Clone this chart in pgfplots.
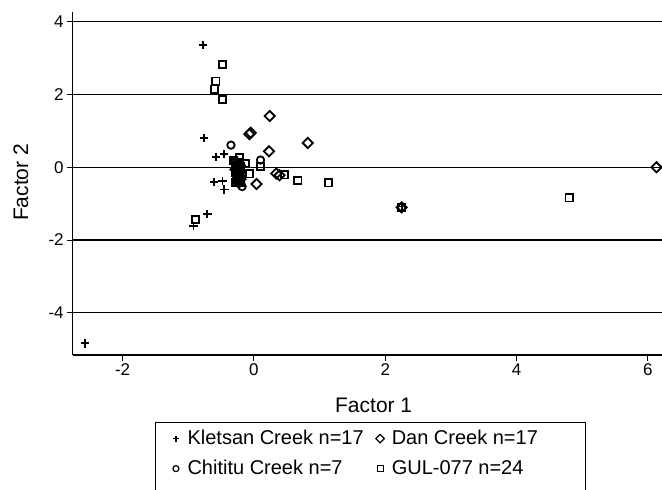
\documentclass[border=0pt]{standalone}
\usepackage{fontspec}
\setmainfont{Liberation Sans}
\usepackage{pgfplots}
\pgfplotsset{compat=1.18}

% factor scores, one table per source
\pgfplotstableread{
x y
-0.78 3.37
-0.76 0.81
-0.58 0.29
-0.46 0.36
-0.61 -0.40
-0.48 -0.38
-0.45 -0.61
-0.71 -1.28
-0.92 -1.61
-2.57 -4.84
2.25 -1.08
-0.205 0.12
-0.28 0.03
-0.255 -0.06
-0.205 -0.15
-0.28 -0.24
-0.28 -0.33
}\kletsan

\pgfplotstableread{
x y
0.24 1.41
-0.05 0.95
-0.07 0.91
0.82 0.67
0.23 0.44
0.34 -0.17
0.39 -0.22
0.04 -0.46
6.13 0.00
2.25 -1.10
-0.255 0.12
-0.205 0.03
-0.28 -0.06
-0.23 -0.15
-0.255 -0.24
-0.205 -0.33
-0.23 -0.42
}\dan

\pgfplotstableread{
x y
-0.35 0.61
0.10 0.20
-0.18 -0.53
2.25 -1.10
-0.23 0.03
-0.205 -0.24
-0.255 -0.42
}\chititu

\pgfplotstableread{
x y
-0.48 2.83
-0.58 2.37
-0.60 2.15
-0.48 1.87
-0.89 -1.43
0.67 -0.36
1.14 -0.43
0.47 -0.21
0.10 0.02
-0.07 -0.18
-0.22 0.26
-0.31 0.18
-0.13 0.11
4.80 -0.84
2.25 -1.10
-0.28 0.12
-0.23 0.12
-0.255 0.03
-0.205 -0.06
-0.28 -0.15
-0.23 -0.24
-0.255 -0.33
-0.205 -0.42
-0.28 -0.42
}\gul

\begin{document}
\begin{tikzpicture}
\begin{axis}[
    at={(0pt,0pt)}, anchor=south west,
    scale only axis,
    width=589pt, height=343pt,
    xmin=-2.76, xmax=6.21,
    ymin=-5.16, ymax=4.27,
    clip=false,
    axis x line*=bottom, axis y line*=left,
    axis line style={line width=1.3pt, -},
    xtick={-2,0,2,4,6},
    ytick={-4,-2,0,2,4},
    tick align=outside,
    major tick length=5.5pt,
    tick style={line width=1.1pt, black},
    ymajorgrids,
    major grid style={black, line width=1.3pt},
    /pgf/number format/assume math mode=true,
    ticklabel style={font=\fontsize{17}{20}\selectfont},
    xlabel={Factor 1}, ylabel={Factor 2},
    label style={font=\fontsize{21}{25}\selectfont},
    xlabel style={at={(axis description cs:0.511,-0.146)}, anchor=center},
    ylabel style={at={(axis description cs:-0.088,0.503)}, anchor=center},
    legend columns=2,
    legend cell align=left,
    legend image code/.code={%
        \draw[#1] plot coordinates {(10pt,0pt)};
        \path (0pt,0pt) (18pt,0pt);},
    legend style={
        name=leg,
        at={(axis description cs:0.14,-0.198)}, anchor=north west,
        draw=none,
        inner xsep=10pt, inner ysep=6pt,
        font=\fontsize{20}{24}\selectfont,
        row sep=11pt,
        nodes={inner sep=0pt, text height=15pt, text depth=4pt},
        /tikz/every odd column/.append style={column sep=3pt},
    },
    legend image post style={mark size=3pt, line width=1.2pt},
]
\addplot[only marks, black, line width=1.8pt, mark=+, mark size=4.2pt] table {\kletsan};
\addlegendentry{\makebox[182pt][l]{Kletsan Creek n=17}}
\addplot[only marks, black, line width=1.8pt, mark=square, mark size=3.6pt,
    mark options={rotate=45}] table {\dan};
\addlegendentry{Dan Creek n=17}
\addplot[only marks, black, line width=1.8pt, mark=o, mark size=3.7pt] table {\chititu};
\addlegendentry{\makebox[182pt][l]{Chititu Creek n=7}}
\addplot[only marks, black, line width=1.8pt, mark=square, mark size=3.6pt] table {\gul};
\addlegendentry{GUL-077 n=24}
\end{axis}
% legend frame, running past the bottom edge as in the reference
\draw[line width=1pt] (leg.north west) rectangle ++(430pt,-90pt);
\pgfresetboundingbox
\path[use as bounding box] (-72.7pt,-135pt) rectangle (589.3pt,355pt);
\end{tikzpicture}
\end{document}
